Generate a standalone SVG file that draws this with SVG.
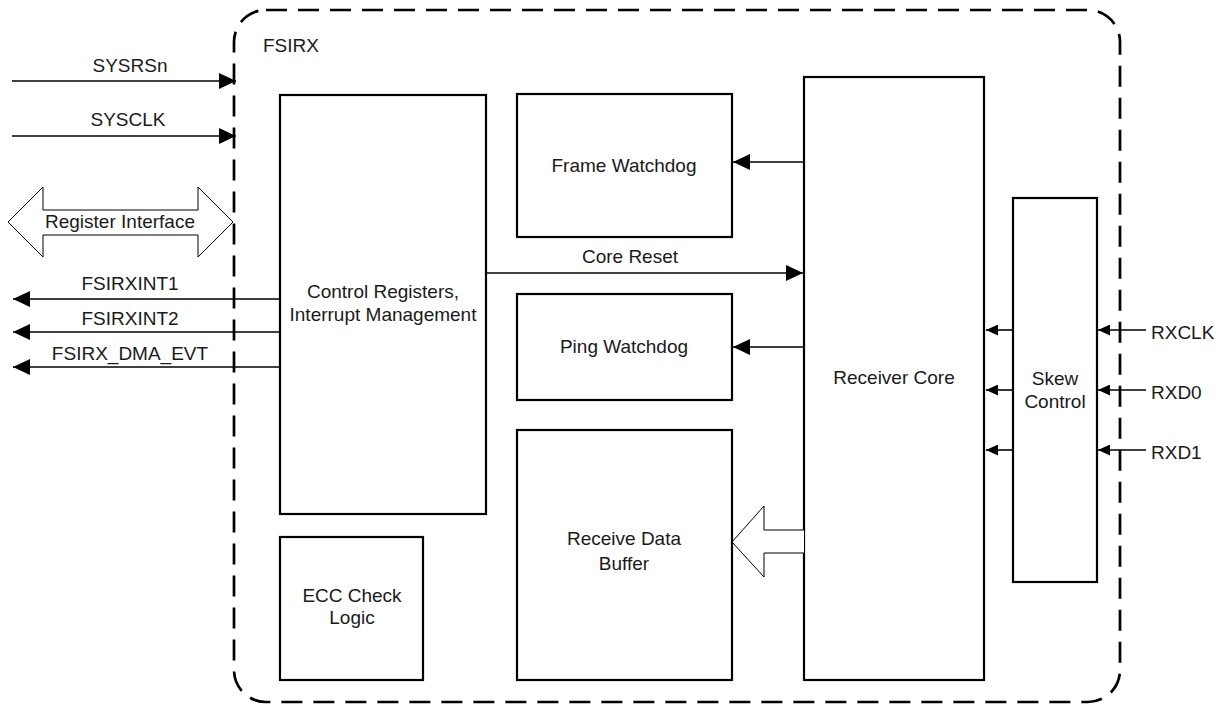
<svg xmlns="http://www.w3.org/2000/svg" width="1224" height="704" viewBox="0 0 1224 704">
<style>
.box{fill:#fff;stroke:#000;stroke-width:2.2}
.t{font-family:"Liberation Sans",Arial,sans-serif;font-size:19px;fill:#1a1a1a}
.m{text-anchor:middle}
.ln{stroke:#000;stroke-width:1.6;fill:none}
.blk{fill:#fff;stroke:#000;stroke-width:1}
</style>
<defs>
<marker id="arr" markerUnits="userSpaceOnUse" markerWidth="17" markerHeight="16" refX="17" refY="8" orient="auto">
<path d="M0,0 L17,8 L0,16 z" fill="#000"/>
</marker>
<marker id="arrs" markerUnits="userSpaceOnUse" markerWidth="12" markerHeight="11" refX="12" refY="5.5" orient="auto">
<path d="M0,0 L12,5.5 L0,11 z" fill="#000"/>
</marker>
</defs>
<g id="fsirx">
<rect x="234" y="10" width="886" height="692" rx="32" ry="32" fill="none" stroke="#000" stroke-width="2.7" stroke-dasharray="21 11"/>
<text class="t" x="263" y="52">FSIRX</text>
</g>
<g id="control-registers">
<rect class="box" x="280" y="95" width="206" height="419"/>
<text class="t m" x="383" y="298">Control Registers,</text>
<text class="t m" x="383" y="321">Interrupt Management</text>
</g>
<g id="ecc">
<rect class="box" x="280" y="537" width="143" height="143"/>
<text class="t m" x="352" y="602">ECC Check</text>
<text class="t m" x="352" y="624">Logic</text>
</g>
<g id="frame-watchdog">
<rect class="box" x="517" y="94" width="215" height="143"/>
<text class="t m" x="624" y="172">Frame Watchdog</text>
</g>
<g id="ping-watchdog">
<rect class="box" x="517" y="294" width="215" height="106"/>
<text class="t m" x="624" y="353">Ping Watchdog</text>
</g>
<g id="receive-data-buffer">
<rect class="box" x="517" y="430" width="215" height="250"/>
<text class="t m" x="624" y="545">Receive Data</text>
<text class="t m" x="624" y="570">Buffer</text>
</g>
<g id="receiver-core">
<rect class="box" x="804" y="77" width="180" height="603"/>
<text class="t m" x="894" y="384">Receiver Core</text>
</g>
<g id="skew-control">
<rect class="box" x="1013" y="198" width="84" height="384"/>
<text class="t m" x="1055" y="385">Skew</text>
<text class="t m" x="1055" y="408">Control</text>
</g>
<g id="connectors">
<line class="ln" x1="12" y1="81" x2="236" y2="81" marker-end="url(#arr)"/>
<text class="t m" x="130" y="72">SYSRSn</text>
<line class="ln" x1="12" y1="136" x2="236" y2="136" marker-end="url(#arr)"/>
<text class="t m" x="128" y="126">SYSCLK</text>
<path class="blk" d="M8,222 L43,187 L43,210 L198,210 L198,187 L233,222 L198,257 L198,235 L43,235 L43,257 Z"/>
<text class="t m" x="120" y="228">Register Interface</text>
<line class="ln" x1="280" y1="299" x2="13" y2="299" marker-end="url(#arr)"/>
<text class="t m" x="130" y="290">FSIRXINT1</text>
<line class="ln" x1="280" y1="332" x2="13" y2="332" marker-end="url(#arr)"/>
<text class="t m" x="130" y="325">FSIRXINT2</text>
<line class="ln" x1="280" y1="367" x2="13" y2="367" marker-end="url(#arr)"/>
<text class="t m" x="130" y="360">FSIRX_DMA_EVT</text>
<line class="ln" x1="804" y1="162" x2="733" y2="162" marker-end="url(#arr)"/>
<line class="ln" x1="487" y1="273" x2="803" y2="273" marker-end="url(#arr)"/>
<text class="t m" x="630" y="263">Core Reset</text>
<line class="ln" x1="804" y1="347" x2="733" y2="347" marker-end="url(#arr)"/>
<path class="blk" d="M804,530 L764,530 L764,506 L732,542 L764,577 L764,553 L804,553"/>
<line class="ln" x1="1013" y1="330" x2="986" y2="330" marker-end="url(#arrs)"/>
<line class="ln" x1="1013" y1="390" x2="986" y2="390" marker-end="url(#arrs)"/>
<line class="ln" x1="1013" y1="450" x2="986" y2="450" marker-end="url(#arrs)"/>
<line class="ln" x1="1146" y1="330" x2="1098" y2="330" marker-end="url(#arrs)"/>
<line class="ln" x1="1146" y1="390" x2="1098" y2="390" marker-end="url(#arrs)"/>
<line class="ln" x1="1146" y1="450" x2="1098" y2="450" marker-end="url(#arrs)"/>
<text class="t" x="1151" y="339">RXCLK</text>
<text class="t" x="1151" y="399">RXD0</text>
<text class="t" x="1151" y="459">RXD1</text>
</g>
</svg>
